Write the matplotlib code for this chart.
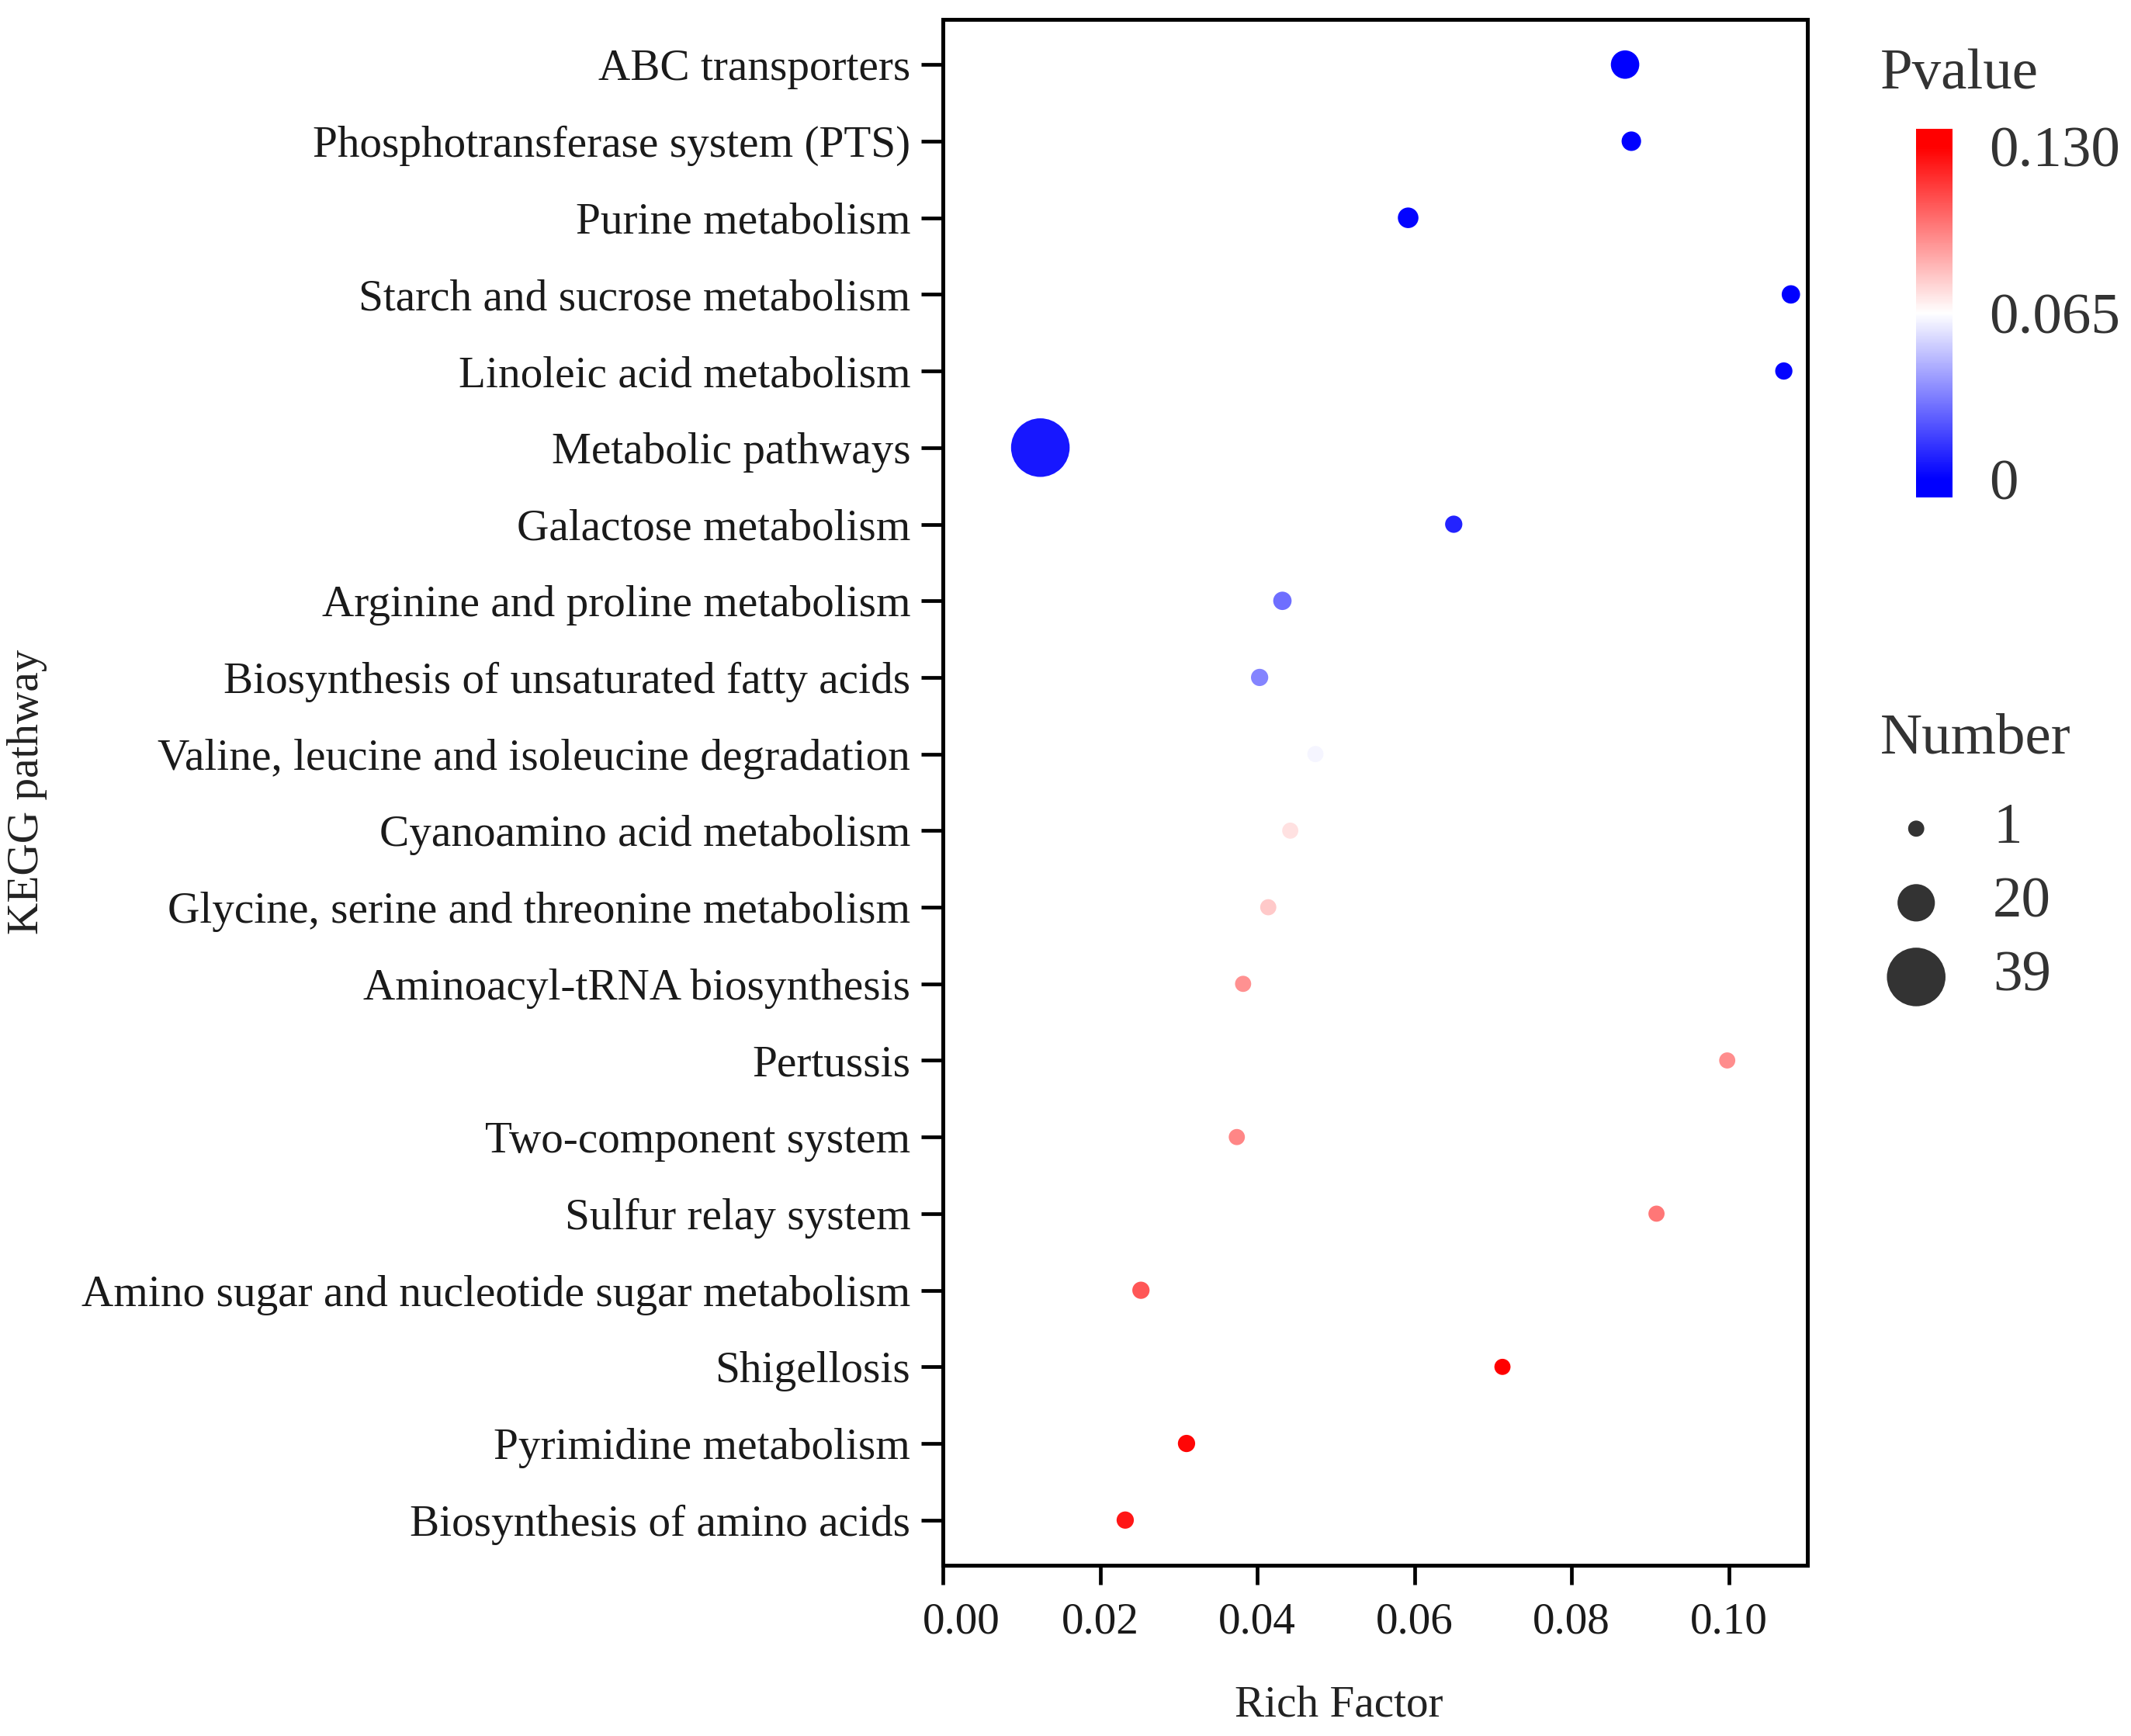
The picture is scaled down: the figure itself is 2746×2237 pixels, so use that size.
import numpy as np
import matplotlib.pyplot as plt
import matplotlib.transforms as mtransforms
from matplotlib.colors import LinearSegmentedColormap, Normalize
from matplotlib.cm import ScalarMappable

plt.rcParams["font.family"] = ["Liberation Serif", "DejaVu Serif"]

# dados
pathways = [
    "ABC transporters",
    "Phosphotransferase system (PTS)",
    "Purine metabolism",
    "Starch and sucrose metabolism",
    "Linoleic acid metabolism",
    "Metabolic pathways",
    "Galactose metabolism",
    "Arginine and proline metabolism",
    "Biosynthesis of unsaturated fatty acids",
    "Valine, leucine and isoleucine degradation",
    "Cyanoamino acid metabolism",
    "Glycine, serine and threonine metabolism",
    "Aminoacyl-tRNA biosynthesis",
    "Pertussis",
    "Two-component system",
    "Sulfur relay system",
    "Amino sugar and nucleotide sugar metabolism",
    "Shigellosis",
    "Pyrimidine metabolism",
    "Biosynthesis of amino acids",
]
rich_factor = [0.0868, 0.0876, 0.0592, 0.1079, 0.1070, 0.0124, 0.0650, 0.0432,
               0.0403, 0.0474, 0.0442, 0.0414, 0.0382, 0.0998, 0.0374, 0.0908,
               0.0252, 0.0712, 0.0310, 0.0232]
number = [12, 4, 5, 3, 2, 39, 2, 3, 2, 1, 1, 1, 1, 1, 1, 1, 2, 1, 2, 2]
pvalue = [0.0, 0.0002, 0.001, 0.0, 0.001, 0.006, 0.009, 0.028, 0.034, 0.0625,
          0.0728, 0.079, 0.093, 0.094, 0.0955, 0.0995, 0.108, 0.130, 0.128, 0.124]

legend_numbers = [1, 20, 39]
cbar_ticks = [0, 0.065, 0.130]
cbar_labels = ["0", "0.065", "0.130"]
xticks = [0.00, 0.02, 0.04, 0.06, 0.08, 0.10]

DPI = 200
W, H = 2746, 2237

# escala de cores azul-branco-vermelho
vmin, vmax = -0.007, 0.137
span = vmax - vmin
cmap = LinearSegmentedColormap.from_list(
    "bwr_p",
    [(0.0, "#0000ff"), ((0 - vmin) / span, "#0000ff"), ((0.065 - vmin) / span, "#ffffff"),
     ((0.130 - vmin) / span, "#ff0000"), (1.0, "#ff0000")],
)
norm = Normalize(vmin=vmin, vmax=vmax)


def tamanho(n):
    """raio em px linear no número de genes -> área em pt^2"""
    r_px = 10.4 + 0.72 * (np.asarray(n) - 1)
    r_pt = r_px * 72 / DPI
    return (2 * r_pt) ** 2


fig = plt.figure(figsize=(W / DPI, H / DPI), dpi=DPI)
ax = fig.add_axes([1215 / W, 1 - 2017 / H, 1114 / W, 1992 / H])

y = np.arange(len(pathways))
ax.scatter(rich_factor, y, s=tamanho(number), c=pvalue, cmap=cmap, norm=norm,
           linewidths=0, zorder=3)

ax.set_ylim(len(pathways) - 0.41, -0.59)
ax.set_xlim(0, 0.11)
ax.set_yticks(y)
ax.set_yticklabels(pathways)
ax.set_xticks(xticks)
ax.set_xticklabels([f"{v:.2f}" for v in xticks])
ax.tick_params(axis="y", length=10, width=1.7, pad=5, labelsize=20.6, labelcolor="#1a1a1a")
ax.tick_params(axis="x", length=9, width=1.7, pad=8, labelsize=20.6, labelcolor="#1a1a1a")
for sp in ax.spines.values():
    sp.set_linewidth(1.8)

# primeiro rótulo do eixo x deslocado para a direita, como no original
primeiro = ax.get_xticklabels()[0]
primeiro.set_transform(primeiro.get_transform() +
                       mtransforms.ScaledTranslation(24 / DPI, 0, fig.dpi_scale_trans))

fig.text(1725 / W, 1 - 2198 / H, "Rich Factor", ha="center", va="center",
         fontsize=20.6, color="#222222")
fig.text(35 / W, 1 - (24 + 2017) / 2 / H, "KEGG pathway", ha="center", va="center",
         rotation=90, fontsize=20.6, color="#222222")

# barra de cores
cax = fig.add_axes([2469 / W, 1 - 641 / H, 47 / W, 475 / H])
cb = fig.colorbar(ScalarMappable(norm=norm, cmap=cmap), cax=cax, ticks=cbar_ticks)
cb.set_ticklabels(cbar_labels)
cb.outline.set_visible(False)
cax.tick_params(length=0, pad=17, labelsize=27, labelcolor="#333333")
fig.text(2423 / W, 1 - 96 / H, "Pvalue", ha="left", va="center", fontsize=27,
         color="#333333")

# legenda de tamanho
fig.text(2423 / W, 1 - 953 / H, "Number", ha="left", va="center", fontsize=27,
         color="#333333")
lax = fig.add_axes([2400 / W, 1 - 1300 / H, 346 / W, 280 / H])
ly = np.arange(len(legend_numbers))
lax.scatter(np.full(len(ly), 0.2), ly, s=tamanho(legend_numbers), color="#333333",
            linewidths=0)
for yy, n in zip(ly, legend_numbers):
    lax.text(0.486, yy, str(n), ha="left", va="center", fontsize=27, color="#333333")
lax.set_xlim(0, 1)
lax.set_ylim(2.43, -0.5)
lax.axis("off")

fig.savefig("out.png", dpi=DPI)
